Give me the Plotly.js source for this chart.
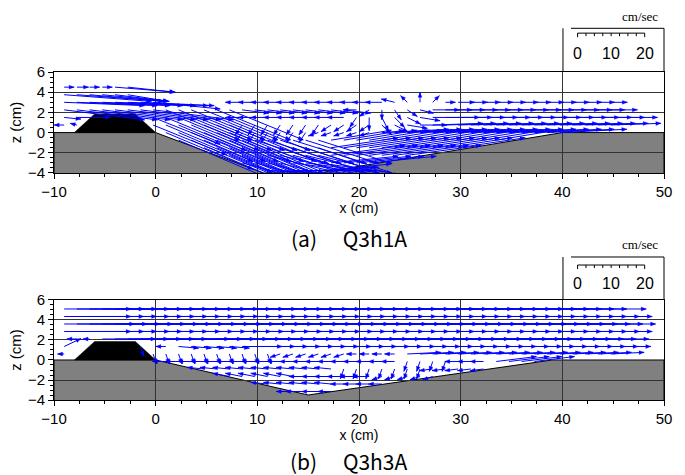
<!DOCTYPE html>
<html><head><meta charset="utf-8">
<script src="https://cdn.plot.ly/plotly-3.0.1.min.js"></script>
<style>html,body{margin:0;padding:0;background:#fff}</style>
</head><body>
<div id="chart" style="width:685px;height:475px"></div>
<script>
const _ = null;
// measurement grid (cm)
const X = [-9,-7.75,-6.5,-5.25,-4, -2.75,-1.5,-0.25,1,2.25, 3.5,4.75,6,7.25,8.5, 9.75,11,12.25,13.5,14.75, 16,17.25,18.5,19.75,21, 22.25,23.5,24.75,26,27.25, 28.5,29.75,31,32.25,33.5, 34.75,36,37.25,38.5,39.75, 41,42.25,43.5,44.75,46];
const aZ = [4.5, 3.75, 3.0, 2.25, 1.5, 0.75, 0, -0.75, -1.5, -2.25, -3.0, -3.75];
const bZ = [5.1, 4.35, 3.6, 2.85, 2.1, 1.35, 0.6, -0.15, -0.9, -1.65, -2.4, -3.15];

// panel (a) Q3h1A : horizontal / vertical velocity (cm/sec)
const aU = [
 [3,3.5,3,3,18, 14,_,_,_,_, _,_,_,_,_, _,_,_,_,_, _,_,_,_,_, _,_,_,_,_, _,_,_,_,_, _,_,_,_,_, _,_,_,_,_],
 [26,26,22,20,16, 12,_,_,_,_, _,_,_,_,_, _,_,_,_,_, _,_,_,_,_, _,_,_,_,_, _,_,_,_,_, _,_,_,_,_, _,_,_,_,_],
 [24,24,24,24,24, 24,22,20,_,_, _,_,_,_,-5, -5,-5,-5,-5,-5, -5,-5,-5,-5,-5, -5,-4,-2,0,2, 3,5,5,5,5, 5,5,5,5,5, 5,5,5,5,_],
 [24,24,24,24,24, 24,24,24,22,22, 22,22,22,22,8, 8,8,8,8,8, 8,8,8,-4,-3, 0,2,3,4,8, 8,8,8,8,8, 8,8,8,8,8, 8,8,8,8,_],
 [5,10,_,_,_, _,_,20,24,24, 24,24,24,24,-5, -5,-5,-5,-5,-5, -5,-5,-5,-2,0, 2,3,4,6,14, 14,14,14,14,14, 14,14,14,14,14, 14,14,14,14,_],
 [-3,-2,_,_,_, _,_,22,26,26, 26,26,26,26,-2, -2,-2,-2,-2,-2, -2,-3,-3,-3,-3, 3,4,6,8,15, 15,15,15,15,15, 15,15,15,15,15, 15,15,15,15,_],
 [_,_,_,_,_, _,_,_,26,28, 28,28,28,28,-2, -2,-2,-2,-2,-2, -3,-3,-3,-3,-3, 20,20,20,20,20, 20,20,20,20,20, 20,20,20,20,20, _,_,_,_,_],
 [_,_,_,_,_, _,_,_,_,28, 28,28,28,28,28, 22,22,22,22,22, 22,18,18,18,18, 18,18,18,18,18, 18,18,18,18,18, _,_,_,_,_, _,_,_,_,_],
 [_,_,_,_,_, _,_,_,_,_, _,28,28,28,28, 28,26,26,26,26, 26,20,20,20,20, 20,20,20,20,20, 20,20,_,_,_, _,_,_,_,_, _,_,_,_,_],
 [_,_,_,_,_, _,_,_,_,_, _,_,_,26,26, 26,24,24,24,24, 24,22,22,22,22, 22,22,22,_,_, _,_,_,_,_, _,_,_,_,_, _,_,_,_,_],
 [_,_,_,_,_, _,_,_,_,_, _,_,_,_,22, 22,22,22,22,22, 22,20,20,20,20, _,_,_,_,_, _,_,_,_,_, _,_,_,_,_, _,_,_,_,_],
 [_,_,_,_,_, _,_,_,_,_, _,_,_,_,_, _,20,20,20,20, 18,18,_,_,_, _,_,_,_,_, _,_,_,_,_, _,_,_,_,_, _,_,_,_,_]
];
const aW = [
 [0,0,0,0,-1.5, -1.5,_,_,_,_, _,_,_,_,_, _,_,_,_,_, _,_,_,_,_, _,_,_,_,_, _,_,_,_,_, _,_,_,_,_, _,_,_,_,_],
 [-2,-2,-2,-2,-2, -2,_,_,_,_, _,_,_,_,_, _,_,_,_,_, _,_,_,_,_, _,_,_,_,_, _,_,_,_,_, _,_,_,_,_, _,_,_,_,_],
 [-1,-1,-1,-1,-1, -1,-1,-2,_,_, _,_,_,_,0, 0,0,0,0,0, 0,0,0,0,0, 0,1,2,3,2, 0,0,0,0,0, 0,0,0,0,0, 0,0,0,0,_],
 [-3,-3,-3,-3,-3, -3,-3,-3,-9,-9, -9,-9,-9,-9,-1, -1,-1,-1,-1,-1, -1,-1,-1,0,-2, -3,-3,-2,-1,0, 0,0,0,0,0, 0,0,0,0,0, 0,0,0,0,_],
 [-0.5,0,_,_,_, _,_,-8,-10,-10, -10,-10,-10,-10,0, 0,0,0,0,0, 0,0,0,-3,-4, -4,-3,-2,-1,0, 0,0,0,0,0, 0,0,0,0,0, 0,0,0,0,_],
 [0,0.5,_,_,_, _,_,-9,-11,-11, -11,-11,-11,-11,-3, -3,-3,-3,-3,-3, -3,-2,-2,-2,-2, -3,-2,-1,0,0.5, 0.5,0.5,0.5,0.5,0.5, 0.5,0.5,0.5,0.5,0.5, 0.5,0.5,0.5,0.5,_],
 [_,_,_,_,_, _,_,_,-11,-12, -12,-12,-12,-12,-3, -3,-3,-3,-3,-3, -1,-1,-1,-1,-1, 1,1,1,1,1, 1,1,1,1,1, 1,1,1,1,1, _,_,_,_,_],
 [_,_,_,_,_, _,_,_,_,-12, -12,-12,-12,-12,-12, -7,-7,-7,-7,-7, -7,3,3,3,3, 3,3,3,3,3, 3,3,3,3,3, _,_,_,_,_, _,_,_,_,_],
 [_,_,_,_,_, _,_,_,_,_, _,-12,-12,-12,-12, -12,-9,-9,-9,-9, -9,3,3,3,3, 3,3,3,3,3, 3,3,_,_,_, _,_,_,_,_, _,_,_,_,_],
 [_,_,_,_,_, _,_,_,_,_, _,_,_,-11,-11, -11,-6,-6,-6,-6, -6,3,3,3,3, 3,3,3,_,_, _,_,_,_,_, _,_,_,_,_, _,_,_,_,_],
 [_,_,_,_,_, _,_,_,_,_, _,_,_,_,-6, -6,-6,-6,-3,-3, -3,2,2,2,2, _,_,_,_,_, _,_,_,_,_, _,_,_,_,_, _,_,_,_,_],
 [_,_,_,_,_, _,_,_,_,_, _,_,_,_,_, _,-1,-1,0,0, 1,2,_,_,_, _,_,_,_,_, _,_,_,_,_, _,_,_,_,_, _,_,_,_,_]
];

// panel (b) Q3h3A
const bU = [
 [20,20,20,20,20, 20,20,20,20,20, 20,20,20,20,20, 20,20,20,20,20, 20,20,20,20,20, 20,20,20,20,20, 20,20,20,20,20, 20,20,20,20,20, 22,_,_,_,_],
 [20,20,20,20,20, 20,20,20,20,20, 20,20,20,20,20, 20,20,20,20,20, 20,20,20,20,20, 20,20,20,20,20, 20,20,20,20,20, 20,20,20,20,20, 20,20,_,_,_],
 [21,21,21,21,21, 21,21,21,21,21, 21,21,21,21,21, 21,21,21,21,21, 21,21,21,21,21, 21,21,21,21,21, 21,21,21,21,21, 21,21,21,21,21, 21,21,_,_,_],
 [20,20,20,20,20, 20,20,20,20,20, 20,20,20,20,20, 20,20,20,20,20, 20,20,20,20,20, 20,20,20,20,20, 20,20,20,20,20, 20,20,20,20,20, 20,20,_,_,_],
 [_,-3,-2,16,16, 16,16,16,19,19, 19,19,19,19,19, 19,19,19,19,19, 19,19,19,19,19, 19,19,19,19,19, 19,19,19,19,19, 19,19,19,19,19, 19,19,_,_,_],
 [5,_,_,_,_, _,1,_,-3,6, 6,6,6,6,12, 12,12,12,12,12, 12,12,12,12,12, 12,12,12,12,12, 12,12,12,12,12, 12,12,12,12,12, 12,12,12,12,_],
 [-2,_,_,_,_, _,_,1,1,1, 1,1,1,1,1, 1,1,-3,-3,-3, -3,-3,-3,-3,-3, -3,-3,10,10,10, 10,10,10,10,10, 10,10,10,10,10, 10,10,10,10,_],
 [_,_,_,_,_, _,_,_,-4,-4, -4,-4,-4,-4,-4, -4,-4,-4,-4,-4, -4,-4,-4,-4,-4, -4,-4,-1,-1,-1, -1,-4,-4,-4,12, 12,12,12,_,_, _,_,_,_,_],
 [_,_,_,_,_, _,_,_,_,_, _,-5,-5,-5,-5, -5,-5,-5,-5,-5, -5,-5,-1,-1,-1, -1,-1,-1,-1,-4, -4,-4,-4,-4,_, _,_,_,_,_, _,_,_,_,_],
 [_,_,_,_,_, _,_,_,_,_, _,_,_,-5,-5, -5,-5,-5,-5,-5, -5,-5,-5,-5,-5, -3,-3,-3,-3,-3, _,_,_,_,_, _,_,_,_,_, _,_,_,_,_],
 [_,_,_,_,_, _,_,_,_,_, _,_,_,_,_, _,-5,-5,-5,-5, -5,-5,-4,-4,-4, -4,_,_,_,_, _,_,_,_,_, _,_,_,_,_, _,_,_,_,_],
 [_,_,_,_,_, _,_,_,_,_, _,_,_,_,_, _,_,_,-5,-6, -5,-4,_,_,_, _,_,_,_,_, _,_,_,_,_, _,_,_,_,_, _,_,_,_,_]
];
const bW = [
 [0,0,0,0,0, 0,0,0,0,0, 0,0,0,0,0, 0,0,0,0,0, 0,0,0,0,0, 0,0,0,0,0, 0,0,0,0,0, 0,0,0,0,0, 0,_,_,_,_],
 [0,0,0,0,0, 0,0,0,0,0, 0,0,0,0,0, 0,0,0,0,0, 0,0,0,0,0, 0,0,0,0,0, 0,0,0,0,0, 0,0,0,0,0, 0,0,_,_,_],
 [0,0,0,0,0, 0,0,0,0,0, 0,0,0,0,0, 0,0,0,0,0, 0,0,0,0,0, 0,0,0,0,0, 0,0,0,0,0, 0,0,0,0,0, 0,0,_,_,_],
 [0,0,0,0,0, 0,0,0,0,0, 0,0,0,0,0, 0,0,0,0,0, 0,0,0,0,0, 0,0,0,0,0, 0,0,0,0,0, 0,0,0,0,0, 0,0,_,_,_],
 [_,0,0,0,0, 0,0,0,0,0, 0,0,0,0,0, 0,0,0,0,0, 0,0,0,0,0, 0,0,0,0,0, 0,0,0,0,0, 0,0,0,0,0, 0,0,_,_,_],
 [2.4,_,_,_,_, _,-3,_,0,-0.5, -0.5,-0.5,-0.5,-0.5,0, 0,0,0,0,0, 0,0,0,0,0, 0,0,0,0,0, 0,0,0,0,0, 0,0,0,0,0, 0,0,0,0,_],
 [0,_,_,_,_, _,_,-3,-3,-3, -3,-3,-3,-3,-3, -3,-3,-1,-1,-1, -1,-1,-1,0,0, 0,0,0.5,0.5,0.5, 0.5,0.5,0.5,0.5,0.5, 0.5,0.5,0.5,0.5,0.5, 0.5,0.5,0.5,0.5,_],
 [_,_,_,_,_, _,_,_,0,0, 0,0,0,0,0, 0,0,0,0,0, 0,0,0,0,0, 0,0,-3,-3,-3, -3,0,0,0,1.5, 1.5,1.5,1.5,_,_, _,_,_,_,_],
 [_,_,_,_,_, _,_,_,_,_, _,0.5,0.5,0.5,0.5, 0.5,0.5,0.5,0.5,0.5, 0.5,0.5,-3,-3,-3, -3,-3,-3,-3,-0.5, -0.5,-0.5,-0.5,-0.5,_, _,_,_,_,_, _,_,_,_,_],
 [_,_,_,_,_, _,_,_,_,_, _,_,_,1,1, 1,1,1,1,0, 0,0,0,0,0, -1,-1,-1,-1,-1, _,_,_,_,_, _,_,_,_,_, _,_,_,_,_],
 [_,_,_,_,_, _,_,_,_,_, _,_,_,_,_, _,0.5,0.5,0.5,0.5, 0.5,0.5,0,0,0, 0,_,_,_,_, _,_,_,_,_, _,_,_,_,_, _,_,_,_,_],
 [_,_,_,_,_, _,_,_,_,_, _,_,_,_,_, _,_,_,0,0, 0,0,_,_,_, _,_,_,_,_, _,_,_,_,_, _,_,_,_,_, _,_,_,_,_]
];

// bed profiles and obstacle (cm)
const aBedX = [-10, 0, 10.6, 16, 40, 50];
const aBedZ = [0, 0, -4, -4, 0, 0];
const bBedX = [-10, 0, 15, 39, 50];
const bBedZ = [0, 0, -3.5, 0, 0];
const obsX = [-8, -6, -2, 0];
const obsZ = [0, 1.85, 1.85, 0];

// velocity scale bar
const scaleTicks = [0, 2.5, 5, 7.5, 10, 12.5, 15, 17.5, 20];
const scaleLabels = [0, 10, 20];

const S = 0.33;          // arrow length in cm per cm/sec
const HL = 0.5, HW = 0.19;
const BLUE = '#0000ff';

function arrows(Z, U, W, xa, ya) {
  const lx = [], ly = [], hx = [], hy = [];
  Z.forEach((z, r) => {
    X.forEach((x, i) => {
      const u = U[r][i], w = W[r][i];
      if (u === null || w === null) return;
      const x1 = x + u * S, z1 = z + w * S;
      lx.push(x, x1, null); ly.push(z, z1, null);
      const m = Math.hypot(u, w) || 1;
      const dx = u / m, dz = w / m;
      const bx = x1 - HL * dx, bz = z1 - HL * dz;
      hx.push(x1, bx - HW * dz, bx + HW * dz, x1, null);
      hy.push(z1, bz + HW * dx, bz - HW * dx, z1, null);
    });
  });
  return [
    {x: lx, y: ly, xaxis: xa, yaxis: ya, mode: 'lines', line: {color: BLUE, width: 1}, hoverinfo: 'skip'},
    {x: hx, y: hy, xaxis: xa, yaxis: ya, mode: 'lines', fill: 'toself', fillcolor: BLUE, line: {color: BLUE, width: 0.3}, hoverinfo: 'skip'}
  ];
}

function polyPath(xs, zs, closeBottom) {
  let p = closeBottom ? `M ${xs[0]},-5` : `M ${xs[0]},${zs[0]}`;
  xs.forEach((x, i) => { p += ` L ${x},${zs[i]}`; });
  if (closeBottom) p += ` L ${xs[xs.length - 1]},-5`;
  return p + ' Z';
}

const data = [...arrows(aZ, aU, aW, 'x', 'y'), ...arrows(bZ, bU, bW, 'x2', 'y2')];

const FONT = 'Liberation Sans, Arial, sans-serif';
function xAxis(anchor) {
  return {
    anchor: anchor, domain: [0, 1], range: [-10, 50], tick0: -10, dtick: 10,
    ticks: 'outside', ticklen: 5, tickcolor: '#000', tickfont: {family: FONT, size: 15, color: '#000'},
    showline: true, mirror: true, linecolor: '#000', linewidth: 1,
    showgrid: true, gridcolor: '#333', gridwidth: 1, zeroline: false,
    minor: {dtick: 2.5, tick0: 0, ticks: 'outside', ticklen: 3, tickcolor: '#000', showgrid: false},
    title: {text: 'x (cm)', font: {family: FONT, size: 14, color: '#000'}, standoff: 3},
    fixedrange: true
  };
}
function yAxis(anchor, domain) {
  return {
    anchor: anchor, domain: domain, range: [-4, 6], tick0: 0, dtick: 2,
    ticks: 'outside', ticklen: 5, tickcolor: '#000', tickfont: {family: FONT, size: 15, color: '#000'},
    showline: true, mirror: true, linecolor: '#000', linewidth: 1,
    showgrid: true, gridcolor: '#333', gridwidth: 1,
    zeroline: true, zerolinecolor: 'rgba(0,0,0,0)', zerolinewidth: 0,
    minor: {dtick: 0.5, tick0: 0, ticks: 'outside', ticklen: 3, tickcolor: '#000', showgrid: false},
    title: {text: 'z (cm)', font: {family: FONT, size: 15, color: '#000'}, standoff: 2},
    fixedrange: true
  };
}

const shapes = [];
const annotations = [];
[['x', 'y', aBedX, aBedZ], ['x2', 'y2', bBedX, bBedZ]].forEach(([xr, yr, bx, bz]) => {
  shapes.push({type: 'path', xref: xr, yref: yr, path: polyPath(bx, bz, true), fillcolor: '#808080', line: {color: '#000', width: 1}, layer: 'below'});
  shapes.push({type: 'path', xref: xr, yref: yr, path: polyPath(obsX, obsZ, false), fillcolor: '#000', line: {color: '#000', width: 0.5}, layer: 'below'});
});

// scale boxes (paper coords) and bars (x axis coords)
const PH = 328; // plot-area height in px
const boxes = [
  {xr: 'x', bottom: 1.0, top: 1.1332, bar: 1.1185, lab: 1.0549, unit: 1.1677},
  {xr: 'x2', bottom: 0.3049, top: 0.436, bar: 0.4115, lab: 0.3552, unit: 0.4756}
];
const SB0 = 41.5;
boxes.forEach(b => {
  const ln = {color: '#000', width: 1};
  shapes.push({type: 'line', xref: 'paper', yref: 'paper', x0: 0.8344, x1: 0.8344, y0: b.bottom, y1: b.top, line: ln});
  shapes.push({type: 'line', xref: 'paper', yref: 'paper', x0: 0.8475, x1: 1.0, y0: b.top, y1: b.top, line: ln});
  shapes.push({type: 'line', xref: 'paper', yref: 'paper', x0: 1.0, x1: 1.0, y0: b.bottom, y1: b.top, line: ln});
  shapes.push({type: 'line', xref: b.xr, yref: 'paper', x0: SB0, x1: SB0 + scaleTicks[scaleTicks.length - 1] * S, y0: b.bar, y1: b.bar, line: ln});
  scaleTicks.forEach((t, k) => {
    const len = (k === 0 || k === scaleTicks.length - 1) ? 4 : 3;
    shapes.push({type: 'line', xref: b.xr, yref: 'paper', x0: SB0 + t * S, x1: SB0 + t * S, y0: b.bar, y1: b.bar - len / PH, line: {color: '#000', width: 1}});
  });
  scaleLabels.forEach(v => {
    annotations.push({xref: b.xr, yref: 'paper', x: SB0 + v * S, y: b.lab, text: String(v), showarrow: false, xanchor: 'center', yanchor: 'middle', font: {family: FONT, size: 16, color: '#000'}});
  });
  annotations.push({xref: 'paper', yref: 'paper', x: 0.9607, y: b.unit, text: 'cm/sec', showarrow: false, xanchor: 'center', yanchor: 'middle', font: {family: 'Liberation Serif, Times New Roman, serif', size: 13, color: '#000'}});
});

annotations.push({xref: 'paper', yref: 'paper', x: 0.4836, y: 0.494, text: '(a)\u3000\u00a0Q3h1A', showarrow: false, xanchor: 'center', yanchor: 'middle', font: {family: 'Noto Sans CJK JP, sans-serif', size: 21, color: '#000'}});
annotations.push({xref: 'paper', yref: 'paper', x: 0.4836, y: -0.186, text: '(b)\u3000\u00a0Q3h3A', showarrow: false, xanchor: 'center', yanchor: 'middle', font: {family: 'Noto Sans CJK JP, sans-serif', size: 21, color: '#000'}});

const layout = {
  width: 685, height: 475,
  margin: {l: 54, r: 21, t: 72, b: 75},
  paper_bgcolor: '#fff', plot_bgcolor: '#fff',
  showlegend: false,
  font: {family: FONT, size: 15, color: '#000'},
  xaxis: xAxis('y'),
  yaxis: yAxis('x', [0.6921, 1]),
  xaxis2: xAxis('y2'),
  yaxis2: yAxis('x2', [0, 0.3049]),
  shapes: shapes,
  annotations: annotations
};

Plotly.newPlot('chart', data, layout, {staticPlot: true, displayModeBar: false});
</script>
</body></html>
